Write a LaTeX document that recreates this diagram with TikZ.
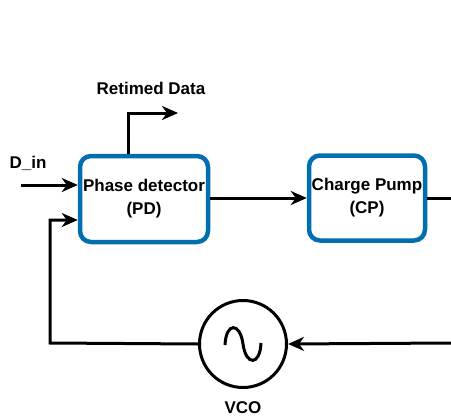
\documentclass[tikz,border=0pt]{standalone}
\usepackage{fontspec}
\setmainfont{Liberation Sans}
\usetikzlibrary{arrows.meta}
\definecolor{boxblue}{HTML}{006EAF}
\begin{document}
\begin{tikzpicture}[x=1pt, y=-1pt, >={Stealth[length=16pt,width=14pt,inset=5pt]},
  line width=3pt,
  block/.style={draw=boxblue, line width=4.5pt, rounded corners=11pt, fill=white,
    align=center, inner sep=0pt, font=\fontsize{17}{23}\selectfont\bfseries},
  lbl/.style={font=\fontsize{17}{22}\selectfont\bfseries}]
  \useasboundingbox (0,0) rectangle (451,418);
  \node[block, minimum width=128pt, minimum height=86pt] (pd) at (144,199) {Phase detector\\(PD)};
  \node[block, minimum width=116pt, minimum height=85pt] (cp) at (367,198) {Charge Pump\\(CP)};
  \node[circle, draw, minimum size=87pt, inner sep=0pt] (vco) at (243,344) {};
  % sine symbol
  \draw (225,345) .. controls (226,322) and (240,322) .. (243,344)
    .. controls (246,366) and (260,366) .. (261,343);
  \coordinate (din) at (21,185);
  \coordinate (rt) at (178,113);
  \coordinate (cpout) at (451,198);
  \coordinate (vcoin) at (451,343);
  \coordinate (fb) at (50,343);
  \draw[->] (din) -- (din -| pd.west);
  \draw[->] ([xshift=-16pt]pd.north) |- (rt);
  \draw[->] (pd.east |- cp.west) -- (cp.west);
  \draw (cp.east) -- (cpout);
  \draw[->] (vcoin) -- (vco.east);
  \draw[->] (vco.west) -- (fb) |- ([yshift=-21pt]pd.west);
  \node[lbl] (dinlbl) at (28,163) {D\_in};
  \node[lbl] (rtlbl) at (151,88) {Retimed Data};
  \node[lbl] (vcolbl) at (243,408) {VCO};
\end{tikzpicture}
\end{document}
